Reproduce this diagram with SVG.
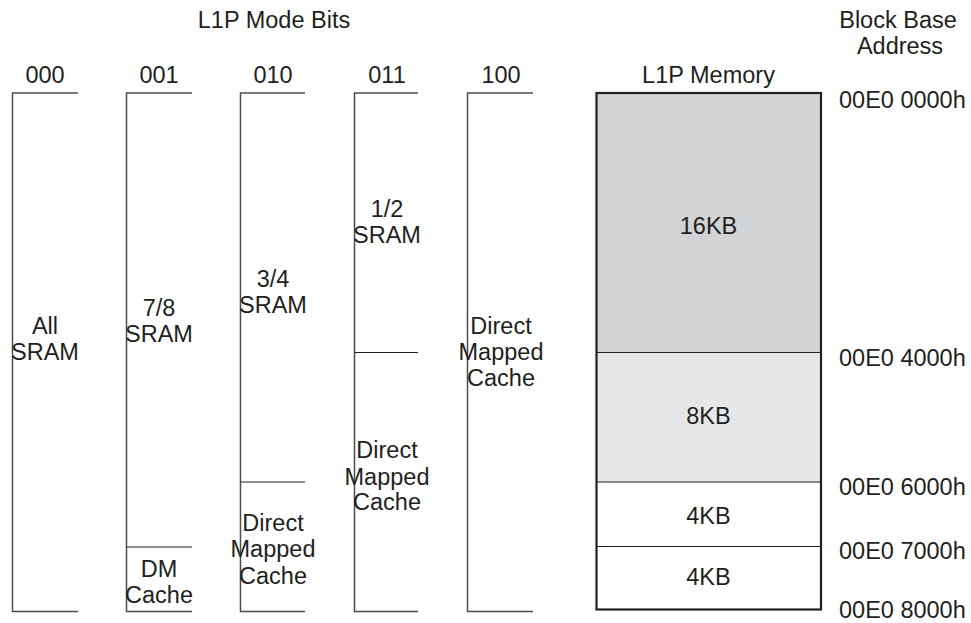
<svg xmlns="http://www.w3.org/2000/svg" width="971" height="623" viewBox="0 0 971 623">
<style>
text{font-family:"Liberation Sans",Arial,sans-serif;font-size:23.5px;fill:#231f20}
.m{text-anchor:middle}
.s{text-anchor:start}
.br{fill:none;stroke:#4d4d4d;stroke-width:1.5}
.dv{stroke:#231f20;stroke-width:1.2;fill:none}
.box{stroke:#231f20;stroke-width:2.2}
</style>
<rect width="971" height="623" fill="#fff"/>
<g id="titles">
<text class="m" x="274" y="28">L1P Mode Bits</text>
<text class="m" x="898" y="28">Block Base</text>
<text class="m" x="900" y="54">Address</text>
<text class="m" x="708.5" y="83">L1P Memory</text>
</g>
<g id="col000">
<text class="m" x="45" y="83">000</text>
<path class="br" d="M78,93 H12.5 V611.5 H78"/>
<text class="m" x="45" y="334">All</text>
<text class="m" x="45" y="360">SRAM</text>
</g>
<g id="col001">
<text class="m" x="159" y="83">001</text>
<path class="br" d="M192,93 H126.5 V611.5 H192"/>
<path class="dv" d="M126.5,547 H192"/>
<text class="m" x="159" y="316">7/8</text>
<text class="m" x="159" y="342">SRAM</text>
<text class="m" x="159" y="577">DM</text>
<text class="m" x="159" y="603">Cache</text>
</g>
<g id="col010">
<text class="m" x="273" y="287">3/4</text>
<text class="m" x="273" y="83">010</text>
<path class="br" d="M305,93 H240.5 V611.5 H305"/>
<path class="dv" d="M240.5,482 H305"/>
<text class="m" x="273" y="313">SRAM</text>
<text class="m" x="273" y="531">Direct</text>
<text class="m" x="273" y="557">Mapped</text>
<text class="m" x="273" y="584">Cache</text>
</g>
<g id="col011">
<text class="m" x="387" y="83">011</text>
<path class="br" d="M418,93 H354.5 V611.5 H418"/>
<path class="dv" d="M354.5,352.5 H418"/>
<text class="m" x="387" y="217">1/2</text>
<text class="m" x="387" y="243">SRAM</text>
<text class="m" x="387" y="458">Direct</text>
<text class="m" x="387" y="485">Mapped</text>
<text class="m" x="387" y="510">Cache</text>
</g>
<g id="col100">
<text class="m" x="501" y="83">100</text>
<path class="br" d="M533,93 H467.5 V611.5 H533"/>
<text class="m" x="501" y="334">Direct</text>
<text class="m" x="501" y="360">Mapped</text>
<text class="m" x="501" y="386">Cache</text>
</g>
<g id="memory">
<rect x="596.5" y="93" width="224.5" height="259.5" fill="#d1d3d4"/>
<rect x="596.5" y="352.5" width="224.5" height="129.5" fill="#e6e7e8"/>
<path class="dv" d="M596.5,352.5 H821 M596.5,482 H821 M596.5,546.5 H821"/>
<rect class="box" x="596.5" y="93" width="224.5" height="516.5" fill="none"/>
<text class="m" x="708.5" y="234">16KB</text>
<text class="m" x="708.5" y="424">8KB</text>
<text class="m" x="708.5" y="524">4KB</text>
<text class="m" x="708.5" y="585">4KB</text>
</g>
<g id="addresses">
<text class="s" x="839" y="108">00E0 0000h</text>
<text class="s" x="839" y="366">00E0 4000h</text>
<text class="s" x="839" y="495">00E0 6000h</text>
<text class="s" x="839" y="559">00E0 7000h</text>
<text class="s" x="839" y="618">00E0 8000h</text>
</g>
</svg>
